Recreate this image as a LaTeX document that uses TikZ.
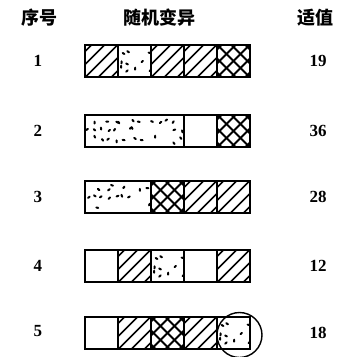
\documentclass[tikz,border=0pt]{standalone}
\usepackage{fontspec}
\setmainfont{Liberation Serif}
\newfontfamily\cjk{Noto Sans CJK SC}
\usetikzlibrary{fit}
\begin{document}
\begin{tikzpicture}[x=1pt,y=-1pt,
  cell/.style={draw, line width=1.5pt, rectangle, minimum height=32pt, minimum width=33pt, inner sep=0pt, outer sep=0pt},
  hatchcell/.style={cell, path picture={
     \foreach \k in {-3,...,3}
       \draw[line width=1.5pt] ([shift={(\k*13pt-25pt,-25pt)}]path picture bounding box.center) -- ++(50pt,50pt);}},
  crosscell/.style={cell, path picture={
     \foreach \k in {-4,...,4}{
       \draw[line width=1.8pt] ([shift={(\k*14pt-25pt,-25pt)}]path picture bounding box.center) -- ++(50pt,50pt);
       \draw[line width=1.8pt] ([shift={(\k*14pt-25pt,25pt)}]path picture bounding box.center) -- ++(50pt,-50pt);}}},
  dotcell/.style={cell, minimum width=#1*33pt, path picture={
     \pgfmathsetseed{#1*7+3}
     \pgfmathtruncatemacro\ncol{#1*5}
     \foreach \i in {1,...,\ncol}{
       \foreach \j in {1,...,3}{
         \pgfmathsetmacro\rx{(\i-0.5)*6.6 - #1*16.5 + rand*2.2}
         \pgfmathsetmacro\ry{(\j-2)*9 + rand*2.5}
         \pgfmathsetmacro\ra{rand*180}
         \pgfmathsetmacro\keep{rnd}
         \ifdim\keep pt<0.7pt
           \draw[line width=2pt, line cap=round] ([shift={(\rx pt,\ry pt)}]path picture bounding box.center) -- ++(\ra:2pt);
         \fi}}}},
  dotcell/.default=1,
  emptycell/.style={cell},
  barbox/.style={draw, line width=2.3pt, inner sep=0pt, outer sep=0pt},
  hdr/.style={font=\cjk\bfseries\fontsize{18}{18}\selectfont, inner sep=0pt},
  num/.style={font=\bfseries\fontsize{17}{17}\selectfont, inner sep=0pt},
  ring/.style={draw, circle, line width=1.4pt, minimum size=45pt, inner sep=0pt}
]
\fill[white] (0,0) rectangle (350,357);
\useasboundingbox (0,0) rectangle (350,357);

\node[hdr] (h1) at (40,18) {序号};
\node[hdr] (h2) at (160,18) {随机变异};
\node[hdr] (h3) at (315,18) {适值};

% row 1
\node[hatchcell, anchor=west] (r1a) at (85,61) {};
\node[dotcell, anchor=west] (r1b) at (r1a.east) {};
\node[hatchcell, anchor=west] (r1c) at (r1b.east) {};
\node[hatchcell, anchor=west] (r1d) at (r1c.east) {};
\node[crosscell, anchor=west] (r1e) at (r1d.east) {};
\node[barbox, fit=(r1a)(r1e)] (b1) {};
\node[num] (n1) at (38,61) {1};
\node[num] (v1) at (318,61) {19};

% row 2
\node[dotcell=3, anchor=west] (r2a) at (85,131) {};
\node[emptycell, anchor=west] (r2d) at (r2a.east) {};
\node[crosscell, anchor=west] (r2e) at (r2d.east) {};
\node[barbox, fit=(r2a)(r2e)] (b2) {};
\node[num] (n2) at (38,131) {2};
\node[num] (v2) at (318,131) {36};

% row 3
\node[dotcell=2, anchor=west] (r3a) at (85,197) {};
\node[crosscell, anchor=west] (r3c) at (r3a.east) {};
\node[hatchcell, anchor=west] (r3d) at (r3c.east) {};
\node[hatchcell, anchor=west] (r3e) at (r3d.east) {};
\node[barbox, fit=(r3a)(r3e)] (b3) {};
\node[num] (n3) at (38,197) {3};
\node[num] (v3) at (318,197) {28};

% row 4
\node[emptycell, anchor=west] (r4a) at (85,266) {};
\node[hatchcell, anchor=west] (r4b) at (r4a.east) {};
\node[dotcell, anchor=west] (r4c) at (r4b.east) {};
\node[emptycell, anchor=west] (r4d) at (r4c.east) {};
\node[hatchcell, anchor=west] (r4e) at (r4d.east) {};
\node[barbox, fit=(r4a)(r4e)] (b4) {};
\node[num] (n4) at (38,266) {4};
\node[num] (v4) at (318,266) {12};

% row 5
\node[emptycell, anchor=west] (r5a) at (85,333) {};
\node[hatchcell, anchor=west] (r5b) at (r5a.east) {};
\node[crosscell, anchor=west] (r5c) at (r5b.east) {};
\node[hatchcell, anchor=west] (r5d) at (r5c.east) {};
\node[dotcell, anchor=west] (r5e) at (r5d.east) {};
\node[barbox, fit=(r5a)(r5e)] (b5) {};
\node[ring] (ring5) at ([xshift=6pt,yshift=-2pt]r5e.center) {};
\node[num] (n5) at (38,331) {5};
\node[num] (v5) at (318,333) {18};
\end{tikzpicture}
\end{document}
